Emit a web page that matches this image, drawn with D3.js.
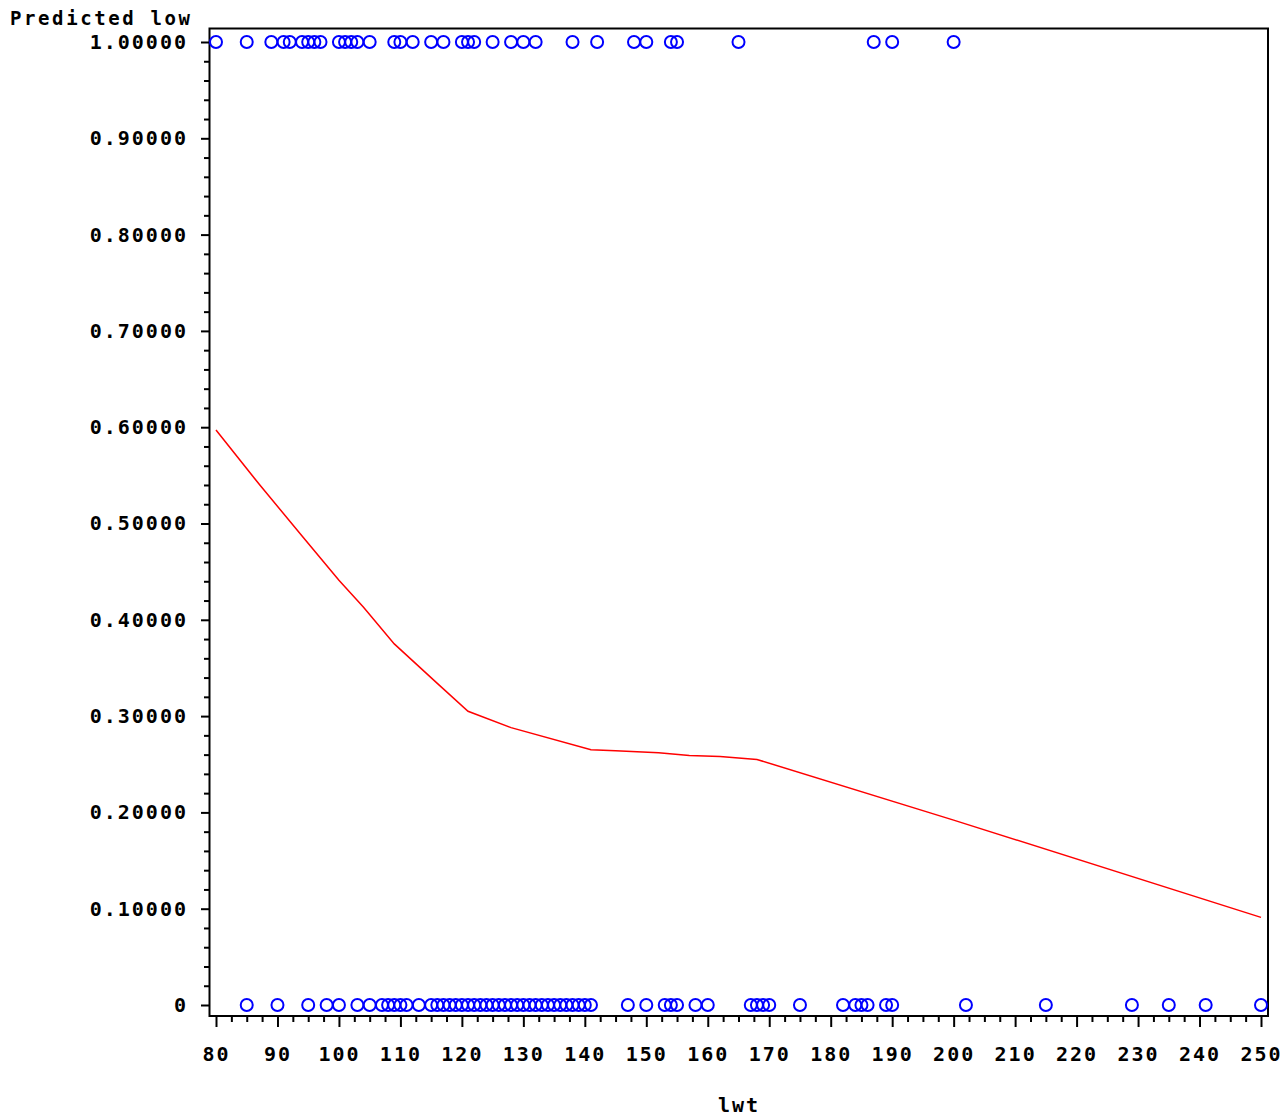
<!DOCTYPE html>
<html>
<head>
<meta charset="utf-8">
<script src="https://cdn.jsdelivr.net/npm/d3@7"></script>
<style>
  body { margin: 0; background: #fff; }
  text { font-family: "DejaVu Sans Mono", monospace; font-weight: bold; fill: #000; }
</style>
</head>
<body>
<svg id="chart" width="1285" height="1117"></svg>
<script>
// observed lwt values, low = 1 (top row) and low = 0 (bottom row)
const lwtLow1 = [80, 85, 89, 91, 92, 94, 95, 96, 97, 100, 101, 102, 103, 105, 109, 110, 112, 115, 117,
  120, 121, 122, 125, 128, 130, 132, 138, 142, 148, 150, 154, 155, 165, 187, 190, 200]
const lwtLow0 = [85, 90, 95, 98, 100, 103, 105, 107, 108, 109, 110, 111, 113, 115, 116, 117, 118, 119,
  120, 121, 122, 123, 124, 125, 126, 127, 128, 129, 130, 131, 132, 133, 134, 135, 136, 137, 138, 139,
  140, 141, 147, 150, 153, 154, 155, 158, 160, 167, 168, 169, 170, 175, 182, 184, 185, 186, 189, 190,
  202, 215, 229, 235, 241, 250]

// predicted curve
const curveLwt = [80, 87, 94, 100, 104, 109, 116, 121, 128, 141, 145, 152, 157, 162, 168, 200, 250]
const curvePred = [0.597, 0.541, 0.487, 0.441, 0.413, 0.375, 0.334, 0.305, 0.288, 0.265, 0.264, 0.262,
  0.259, 0.258, 0.255, 0.192, 0.091]

const xTicks = [80, 90, 100, 110, 120, 130, 140, 150, 160, 170, 180, 190, 200, 210, 220, 230, 240, 250]
const yTicks = [0, 0.1, 0.2, 0.3, 0.4, 0.5, 0.6, 0.7, 0.8, 0.9, 1.0]

const svg = d3.select('#chart')

let xScale = d3.scaleLinear().domain([80, 250]).range([216, 1261])
let yScale = d3.scaleLinear().domain([0, 1]).range([1005, 42])

// frame
svg.append('rect')
  .attr('x', 209.5).attr('y', 28.5)
  .attr('width', 1268 - 209.5).attr('height', 1016 - 28.5)
  .attr('fill', 'none').attr('stroke', '#000').attr('stroke-width', 2)

// x axis: minor then major ticks
let xMinor = d3.range(80, 250.1, 2.5).filter(v => v % 10 != 0)
svg.append('g')
  .attr('transform', 'translate(0,1016)')
  .call(d3.axisBottom(xScale).tickValues(xMinor).tickSize(6).tickFormat(''))
svg.append('g')
  .attr('transform', 'translate(0,1016)')
  .call(d3.axisBottom(xScale).tickValues(xTicks).tickSize(11).tickPadding(20))

// y axis
let yMinor = d3.range(0, 1.001, 0.02).filter(v => Math.abs(v * 10 - Math.round(v * 10)) > 0.01)
svg.append('g')
  .attr('transform', 'translate(209,0)')
  .call(d3.axisLeft(yScale).tickValues(yMinor).tickSize(5).tickFormat(''))
svg.append('g')
  .attr('transform', 'translate(209,0)')
  .call(d3.axisLeft(yScale).tickValues(yTicks).tickSize(8).tickPadding(13)
    .tickFormat(d => d == 0 ? '0' : d3.format('.5f')(d)))

svg.selectAll('.domain').remove()
svg.selectAll('.tick line').attr('stroke', '#000').attr('stroke-width', 2)
svg.selectAll('.tick text')
  .style('font-family', '"DejaVu Sans Mono", monospace')
  .style('font-weight', 'bold')
  .style('font-size', '20px')
  .style('letter-spacing', '2px')
  .attr('fill', '#000')

// titles
svg.append('text')
  .attr('x', 10).attr('y', 25)
  .style('font-size', '19px').style('letter-spacing', '2.6px')
  .text('Predicted low')
svg.append('text')
  .attr('x', 739).attr('y', 1112)
  .attr('text-anchor', 'middle')
  .style('font-size', '20px').style('letter-spacing', '2px')
  .text('lwt')

// predicted line
let line = d3.line()
  .x((d, i) => xScale(curveLwt[i]))
  .y(d => yScale(d))
svg.append('path')
  .datum(curvePred)
  .attr('d', line)
  .attr('fill', 'none')
  .attr('stroke', '#ff0000')
  .attr('stroke-width', 1.5)

// observed points
svg.append('g').selectAll('circle')
  .data(lwtLow1)
  .enter()
  .append('circle')
  .attr('cx', d => xScale(d))
  .attr('cy', yScale(1))
  .attr('r', 6)
  .attr('fill', 'none')
  .attr('stroke', '#0000ff')
  .attr('stroke-width', 2)

svg.append('g').selectAll('circle')
  .data(lwtLow0)
  .enter()
  .append('circle')
  .attr('cx', d => xScale(d))
  .attr('cy', yScale(0))
  .attr('r', 6)
  .attr('fill', 'none')
  .attr('stroke', '#0000ff')
  .attr('stroke-width', 2)
</script>
</body>
</html>
